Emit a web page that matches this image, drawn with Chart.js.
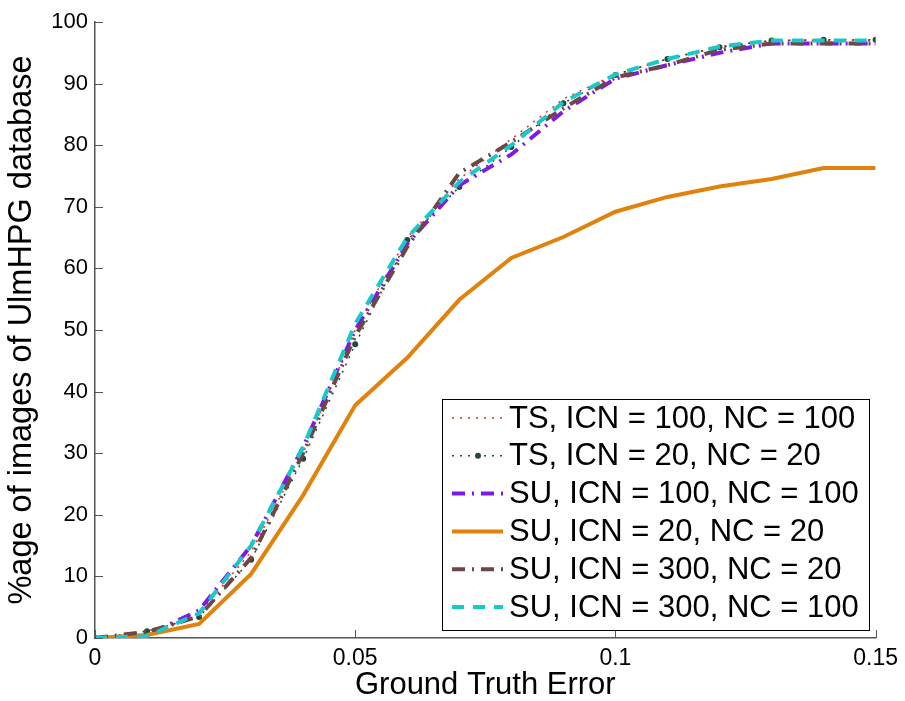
<!DOCTYPE html>
<html>
<head>
<meta charset="utf-8">
<script src="https://cdn.jsdelivr.net/npm/chart.js@4"></script>
<style>
  html, body { margin: 0; padding: 0; background: #fff; }
  #wrap { width: 905px; height: 701px; }
</style>
</head>
<body>
<div id="wrap"><canvas id="grafico" width="905" height="701"></canvas></div>
<script>
const erros = [0, 0.01, 0.02, 0.03, 0.04, 0.05, 0.06, 0.07, 0.08, 0.09, 0.10, 0.11, 0.12, 0.13, 0.14, 0.15];

const nomes = [
  "TS, ICN = 100, NC = 100",
  "TS, ICN = 20, NC = 20",
  "SU, ICN = 100, NC = 100",
  "SU, ICN = 20, NC = 20",
  "SU, ICN = 300, NC = 20",
  "SU, ICN = 300, NC = 100"
];

const ts100 = [0, 0.5, 4.0, 14.0, 30.0, 50.0, 65.0, 74.5, 81.0, 87.5, 91.5, 94.0, 96.0, 97.0, 97.0, 97.0];
const ts20 = [0, 1.1, 3.4, 12.7, 29.1, 47.7, 64.6, 73.2, 79.7, 86.8, 91.4, 94.0, 95.9, 97.0, 97.1, 97.1];
const su100 = [0, 0.5, 4.5, 15.0, 31.0, 50.0, 64.0, 73.5, 78.5, 85.5, 90.8, 93.0, 95.0, 96.5, 96.5, 96.5];
const su20 = [0, 0.5, 2.3, 10.4, 23.2, 37.8, 45.5, 54.9, 61.7, 65.1, 69.2, 71.6, 73.3, 74.5, 76.3, 76.3];
const su300_20 = [0, 1.0, 3.5, 13.0, 30.0, 49.0, 63.5, 75.5, 80.5, 86.0, 91.0, 93.0, 95.5, 96.5, 96.5, 96.5];
const su300_100 = [0, 0.3, 4.0, 15.0, 31.0, 51.0, 65.0, 74.0, 80.0, 87.0, 91.5, 94.0, 96.0, 97.0, 97.0, 97.0];

const xTicks = [0, 0.05, 0.1, 0.15];

const fonte = "'Liberation Sans', Arial, sans-serif";

function pontos(valores) {
  return valores.map((v, i) => ({ x: erros[i], y: v }));
}

const estilos = [
  { cor: "#ff2a2a", largura: 1.5, traco: [2, 6], raio: 0 },
  { cor: "#1e4d3a", largura: 1.5, traco: [2, 6], raio: 3 },
  { cor: "#7f1ae6", largura: 4, traco: [13, 7, 2, 7], raio: 0 },
  { cor: "#e0820c", largura: 4, traco: [], raio: 0 },
  { cor: "#704545", largura: 4, traco: [13, 7, 2, 7], raio: 0 },
  { cor: "#19c8c8", largura: 4, traco: [12, 9], raio: 0 }
];

const series = [ts100, ts20, su100, su20, su300_20, su300_100];

const datasets = series.map((s, i) => ({
  label: nomes[i],
  data: pontos(s),
  borderColor: estilos[i].cor,
  backgroundColor: estilos[i].cor,
  borderWidth: estilos[i].largura,
  borderDash: estilos[i].traco,
  pointRadius: estilos[i].raio,
  pointBorderWidth: 0,
  pointBackgroundColor: estilos[i].cor,
  tension: 0,
  fill: false,
  order: 5 - i
}));

// ticks virados para dentro, como no matlab
const ticksDentro = {
  id: "ticksDentro",
  afterDraw(chart) {
    const ctx = chart.ctx;
    const a = chart.chartArea;
    ctx.save();
    ctx.strokeStyle = "#555";
    ctx.lineWidth = 1;
    chart.scales.y.ticks.forEach(t => {
      const y = Math.round(chart.scales.y.getPixelForValue(t.value)) + 0.5;
      ctx.beginPath();
      ctx.moveTo(a.left, y);
      ctx.lineTo(a.left + 8, y);
      ctx.stroke();
    });
    chart.scales.x.ticks.forEach(t => {
      const x = Math.round(chart.scales.x.getPixelForValue(t.value)) + 0.5;
      ctx.beginPath();
      ctx.moveTo(x, a.bottom);
      ctx.lineTo(x, a.bottom - 8);
      ctx.stroke();
    });
    ctx.restore();
  }
};

const legenda = {
  id: "legenda",
  afterDraw(chart) {
    const ctx = chart.ctx;
    const caixa = { x: 442, y: 399, w: 427, h: 231 };
    ctx.save();
    ctx.fillStyle = "#fff";
    ctx.fillRect(caixa.x, caixa.y, caixa.w, caixa.h);
    ctx.strokeStyle = "#000";
    ctx.lineWidth = 1;
    ctx.strokeRect(caixa.x + 0.5, caixa.y + 0.5, caixa.w, caixa.h);
    chart.data.datasets.forEach((ds, i) => {
      const y = 418 + i * 37.8;
      ctx.strokeStyle = ds.borderColor;
      ctx.lineWidth = ds.borderWidth;
      ctx.setLineDash(ds.borderDash);
      ctx.beginPath();
      ctx.moveTo(452, y);
      ctx.lineTo(503, y);
      ctx.stroke();
      ctx.setLineDash([]);
      if (ds.pointRadius > 0) {
        ctx.fillStyle = ds.pointBackgroundColor;
        ctx.beginPath();
        ctx.arc(478, y, ds.pointRadius, 0, Math.PI * 2);
        ctx.fill();
      }
      ctx.fillStyle = "#000";
      ctx.font = "31px " + fonte;
      ctx.textBaseline = "middle";
      ctx.textAlign = "left";
      ctx.fillText(ds.label, 509, y + 1);
    });
    ctx.restore();
  }
};

new Chart(document.getElementById("grafico"), {
  type: "line",
  data: { datasets: datasets },
  plugins: [ticksDentro, legenda],
  options: {
    responsive: false,
    animation: false,
    layout: { padding: { top: 22, right: 26, left: 0, bottom: 0 } },
    plugins: {
      legend: { display: false },
      tooltip: { enabled: false }
    },
    scales: {
      x: {
        type: "linear",
        min: 0,
        max: 0.15,
        afterBuildTicks(scale) {
          scale.ticks = xTicks.map(v => ({ value: v }));
        },
        afterFit(scale) { scale.height = 63; },
        ticks: {
          color: "#000",
          padding: 7,
          maxRotation: 0,
          font: { family: fonte, size: 23 },
          callback: v => String(+v.toFixed(2))
        },
        grid: { display: true, drawOnChartArea: false, drawTicks: false },
        border: { display: true, color: "#555", width: 1.5 },
        title: {
          display: true,
          text: "Ground Truth Error",
          color: "#000",
          font: { family: fonte, size: 31, lineHeight: 1 },
          padding: { top: 0, bottom: 0 }
        }
      },
      y: {
        min: 0,
        max: 100,
        afterFit(scale) { scale.width = 95; },
        ticks: {
          stepSize: 10,
          color: "#000",
          padding: 7,
          font: { family: fonte, size: 22 }
        },
        grid: { display: true, drawOnChartArea: false, drawTicks: false },
        border: { display: true, color: "#555", width: 1.5 },
        title: {
          display: true,
          text: "%age of images of UlmHPG database",
          color: "#000",
          font: { family: fonte, size: 32.5, lineHeight: 1 },
          padding: { top: 6, bottom: 0 }
        }
      }
    }
  }
});
</script>
</body>
</html>
